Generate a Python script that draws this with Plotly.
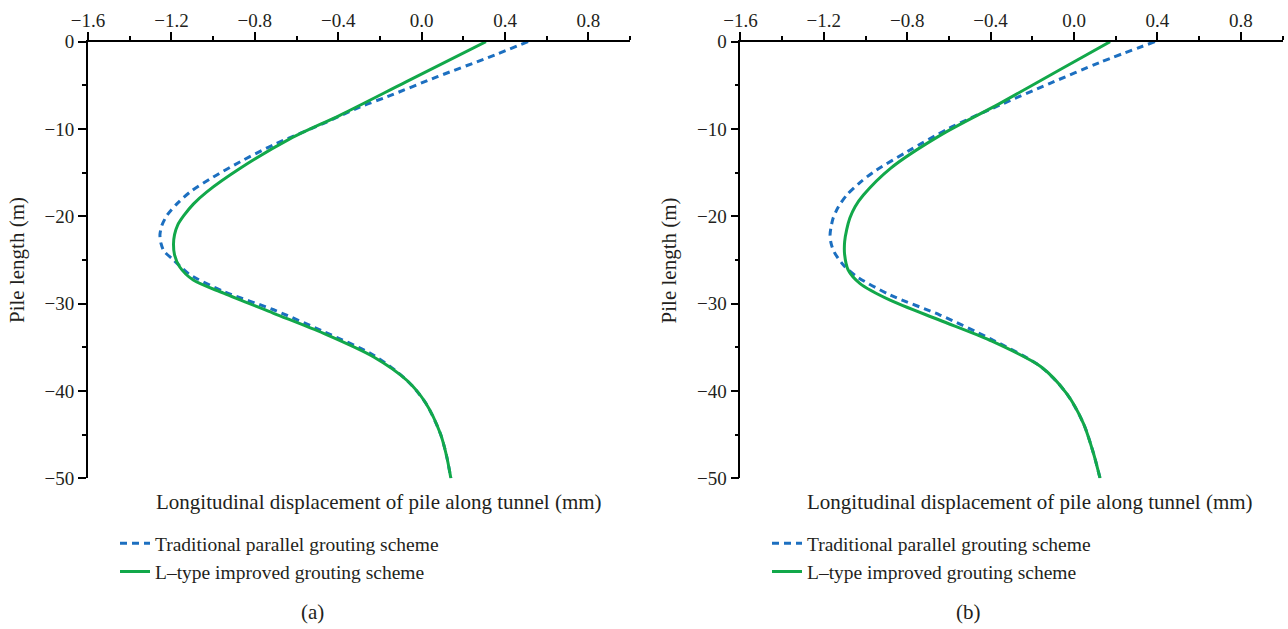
import plotly.graph_objects as go

W, H = 1288, 629

# ---------------- data ----------------
# Panel (a)
a_trad_depth = [0, -1.83, -4.0, -6.3, -7.45, -9.35, -11.8, -13.75, -15.5, -17.2, -18.6, -19.85, -21.0,
                -22.1, -23.1, -24.0, -25.0, -25.8, -26.7, -28.6, -30.7, -33.2, -35.9, -38.8, -41.4,
                -44.9, -47.5, -50]
a_trad_disp = [0.51, 0.317, 0.076, -0.165, -0.294, -0.47, -0.71, -0.87, -1.00, -1.11, -1.175, -1.22, -1.245,
               -1.255, -1.25, -1.235, -1.19, -1.155, -1.11, -0.95, -0.71, -0.47, -0.23, -0.07, 0.02,
               0.09, 0.12, 0.14]
a_impr_depth = [0, -4.6, -8.4, -11.1, -14.5, -17.2, -18.6, -19.9, -21.0, -22.1, -23.2, -24.4, -25.8,
                -27.3, -28.8, -31.1, -33.4, -36.1, -38.8, -41.4, -44.9, -47.5, -50]
a_impr_disp = [0.308, -0.075, -0.39, -0.63, -0.87, -1.03, -1.095, -1.14, -1.17, -1.185, -1.19, -1.185, -1.16,
               -1.095, -0.95, -0.71, -0.47, -0.23, -0.07, 0.02, 0.09, 0.12, 0.14]

# Panel (b)
b_trad_depth = [0, -2.36, -4.77, -7.25, -9.92, -12.6, -14.9, -16.3, -17.56, -18.9, -20.2, -21.2,
                -22.1, -23.1, -24.1, -25.6, -26.9, -29.0, -31.3, -34.0, -37.2, -40.3, -43.7, -47.1, -50]
b_trad_disp = [0.388, 0.125, -0.115, -0.355, -0.60, -0.80, -0.96, -1.035, -1.09, -1.13, -1.155, -1.165,
               -1.17, -1.165, -1.15, -1.105, -1.042, -0.882, -0.643, -0.403, -0.16, -0.035, 0.045, 0.093, 0.125]
b_impr_depth = [0, -3.24, -7.06, -10.7, -14.5, -17.56, -18.9, -20.2, -21.5, -22.9, -24.4, -26.15, -27.7,
                -29.6, -31.9, -34.2, -37.2, -40.3, -43.7, -47.1, -50]
b_impr_disp = [0.173, -0.07, -0.355, -0.64, -0.88, -1.01, -1.05, -1.075, -1.09, -1.10, -1.10, -1.083, -1.026,
               -0.882, -0.643, -0.403, -0.16, -0.035, 0.045, 0.093, 0.125]

trad_name = "Traditional parallel grouting scheme"
impr_name = "L\u2013type improved grouting scheme"
x_title = "Longitudinal displacement of pile along tunnel (mm)"
y_title = "Pile length (m)"
panel_labels = ["(a)", "(b)"]
x_range = [-1.6, 1.0]
y_range = [-50, 0]

# ---------------- style ----------------
FONT = "Liberation Serif"
TXT = "#231f20"
BLUE = "#1c6fc0"
GREEN = "#12a84a"
FS = 21      # axis titles
LFS = 19.5   # legend
TFS = 19     # tick labels

fig = go.Figure()

panels = [
    (a_trad_disp, a_trad_depth, a_impr_disp, a_impr_depth, "x", "y", "legend"),
    (b_trad_disp, b_trad_depth, b_impr_disp, b_impr_depth, "x2", "y2", "legend2"),
]
for td, tz, idp, iz, xa, ya, lg in panels:
    fig.add_trace(go.Scatter(x=td, y=tz, mode="lines", name=trad_name, xaxis=xa, yaxis=ya, legend=lg,
                             line=dict(color=BLUE, width=3, dash="7px,5px", shape="spline", smoothing=0.8)))
    fig.add_trace(go.Scatter(x=idp, y=iz, mode="lines", name=impr_name, xaxis=xa, yaxis=ya, legend=lg,
                             line=dict(color=GREEN, width=3, shape="spline", smoothing=0.8)))

# pixel-based domains
def px_x(p):
    return p / W

def px_y(p):
    return 1 - p / H

top_px, bot_px = 41.7, 478.3
left_dom = [px_x(88), px_x(630.2)]
right_dom = [px_x(740.4), px_x(1282.5)]
y_dom = [px_y(bot_px), px_y(top_px)]

def xaxis(dom, anchor):
    return dict(domain=dom, anchor=anchor, side="top", range=x_range, showgrid=False, zeroline=False,
                automargin=False, ticklabelstandoff=-3,
                showline=True, linecolor="black", linewidth=1.8, ticks="outside", ticklen=8, tickwidth=1.5,
                tickcolor="black", dtick=0.4, tick0=0, tickformat=".1f",
                minor=dict(ticks="outside", ticklen=4, tickwidth=1.5, tickcolor="black", dtick=0.2),
                tickfont=dict(family=FONT, size=TFS, color=TXT), fixedrange=True)

def yaxis(anchor):
    return dict(domain=y_dom, anchor=anchor, range=y_range, showgrid=False, zeroline=False,
                automargin=False,
                showline=True, linecolor="black", linewidth=1.8, ticks="outside", ticklen=8, tickwidth=1.5,
                tickcolor="black", dtick=10, tick0=0,
                minor=dict(ticks="outside", ticklen=4, tickwidth=1.5, tickcolor="black", dtick=5),
                tickfont=dict(family=FONT, size=TFS, color=TXT), fixedrange=True)

legend_common = dict(font=dict(family=FONT, size=LFS, color=TXT), bgcolor="rgba(0,0,0,0)",
                     xanchor="left", yanchor="top", tracegroupgap=0, itemwidth=30)

annotations = []
for i, (axL, cx, lab_x) in enumerate([(88, 379, 312), (740.4, 1030, 968)]):
    annotations.append(dict(text=x_title, x=px_x(cx), y=px_y(502), xref="paper", yref="paper",
                            showarrow=False, xanchor="center", yanchor="middle",
                            font=dict(family=FONT, size=FS, color=TXT)))
    annotations.append(dict(text=y_title, x=px_x(axL - 71), y=px_y(260), xref="paper", yref="paper",
                            showarrow=False, xanchor="center", yanchor="middle", textangle=-90,
                            font=dict(family=FONT, size=FS, color=TXT)))
    annotations.append(dict(text=panel_labels[i], x=px_x(lab_x), y=px_y(612), xref="paper", yref="paper",
                            showarrow=False, xanchor="center", yanchor="middle",
                            font=dict(family=FONT, size=FS, color=TXT)))

fig.update_layout(
    width=W, height=H, margin=dict(l=0, r=0, t=0, b=0, autoexpand=False),
    paper_bgcolor="white", plot_bgcolor="white",
    xaxis=xaxis(left_dom, "y"), yaxis=yaxis("x"),
    xaxis2=xaxis(right_dom, "y2"), yaxis2=yaxis("x2"),
    legend=dict(x=px_x(115), y=px_y(524), **legend_common),
    legend2=dict(x=px_x(767), y=px_y(524), **legend_common),
    annotations=annotations,
    showlegend=True,
)

fig.write_html("out.html", config={"displayModeBar": False},
               post_script="document.body.style.margin='0';document.body.style.overflow='hidden';")
